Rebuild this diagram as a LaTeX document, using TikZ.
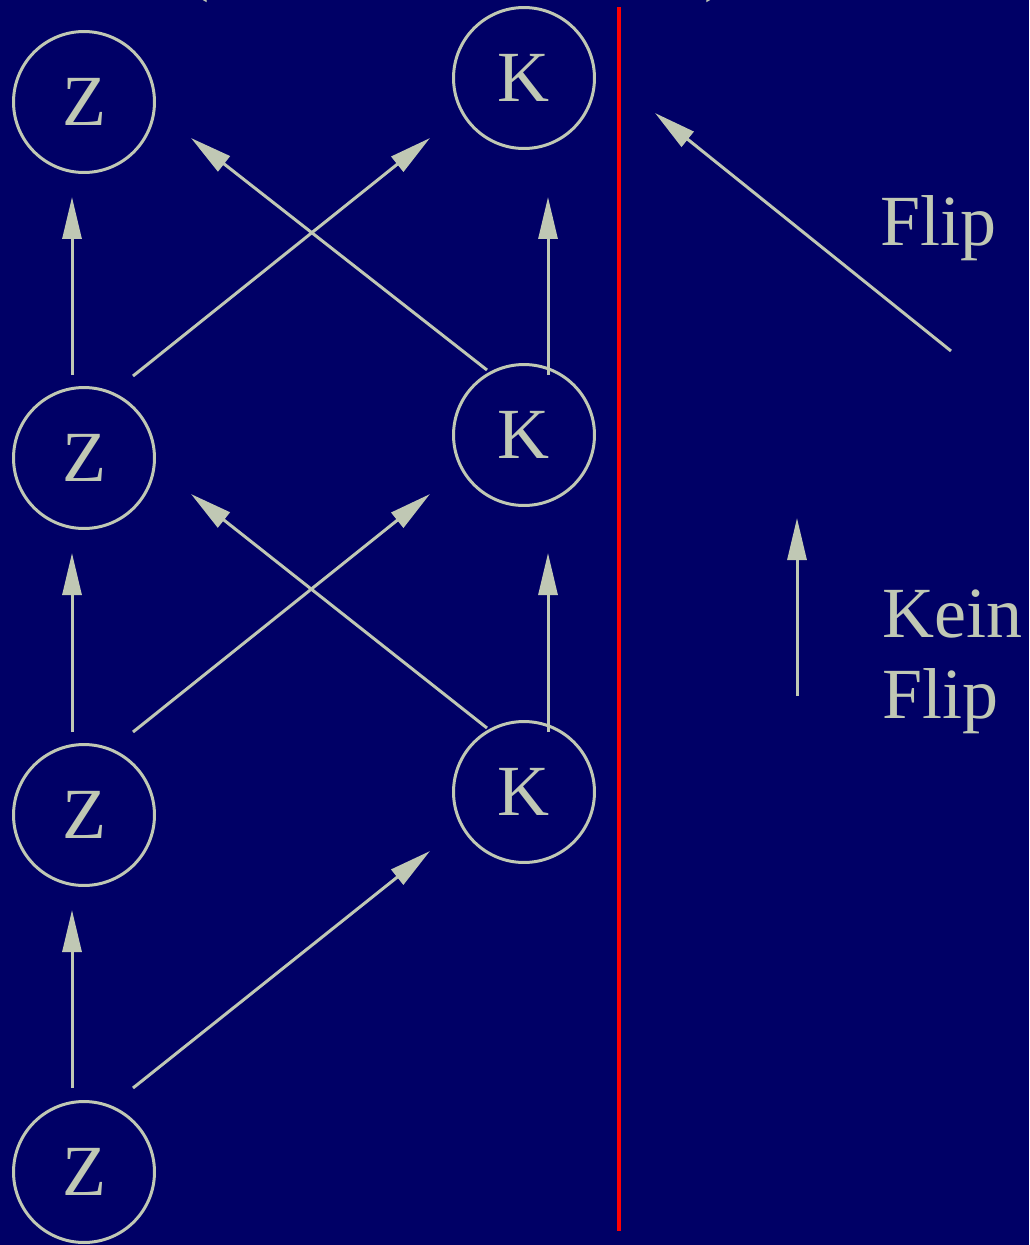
\documentclass[tikz,border=0pt]{standalone}
\usepackage{fontspec}
\setmainfont{Liberation Serif}
\usetikzlibrary{arrows.meta,calc}
\definecolor{bgnavy}{RGB}{0,0,102}
\definecolor{chalk}{RGB}{192,200,180}
\begin{document}
\begin{tikzpicture}[x=0.02cm,y=-0.02cm,
  every node/.style={text=chalk,font=\fontsize{41}{49}\selectfont},
  state/.style={circle,draw=chalk,line width=0.06cm,minimum size=2.82cm,inner sep=0pt},
  arr/.style={draw=chalk,line width=0.06cm,-{Triangle[length=0.84cm,width=0.38cm]}},
  lbl/.style={anchor=base west,inner sep=0pt}]
\fill[bgnavy] (0,0) rectangle (1029,1245);
\useasboundingbox (0,0) rectangle (1029,1245);
% partially visible parentheses at the top edge
\node[anchor=base,inner sep=0pt] (po) at (197,-13) {(};
\node[anchor=base,inner sep=0pt] (pc) at (716,-13) {)};
% nodes
\node[state] (z1) at (84,1172) {Z};
\node[state] (z2) at (84,815) {Z};
\node[state] (z3) at (84,458) {Z};
\node[state] (z4) at (84,102) {Z};
\node[state] (k1) at (524,792) {K};
\node[state] (k2) at (524,435) {K};
\node[state] (k3) at (524,78) {K};
% red separator
\coordinate (rt) at (619,7);
\coordinate (rb) at (619,1231);
\draw[red,line width=0.08cm] (rt) -- (rb);
% Z vertical
\draw[arr] ($(z1)+(-12,-84)$) -- ($(z2)+(-12,95)$);
\draw[arr] ($(z2)+(-12,-83)$) -- ($(z3)+(-12,95)$);
\draw[arr] ($(z3)+(-12,-83)$) -- ($(z4)+(-12,95)$);
% Z -> K diagonals
\draw[arr] ($(z1)+(49,-84)$) -- ($(k1)+(-94,59)$);
\draw[arr] ($(z2)+(49,-83)$) -- ($(k2)+(-94,59)$);
\draw[arr] ($(z3)+(49,-82)$) -- ($(k3)+(-94,60)$);
% K vertical
\draw[arr] ($(k1)+(24,-60)$) -- ($(k2)+(24,118)$);
\draw[arr] ($(k2)+(24,-60)$) -- ($(k3)+(24,119)$);
% K -> Z diagonals
\draw[arr] ($(k1)+(-37,-64)$) -- ($(z3)+(107,36)$);
\draw[arr] ($(k2)+(-37,-65)$) -- ($(z4)+(107,36)$);
% legend
\coordinate (fs) at (951,351);
\coordinate (fe) at (655,113);
\draw[arr] (fs) -- (fe);
\node[lbl] (flip) at (880,245) {Flip};
\coordinate (ns) at (797,696);
\coordinate (ne) at (797,518);
\draw[arr] (ns) -- (ne);
\node[lbl] (kein) at (882,637) {Kein};
\node[lbl] (flip2) at (882,718) {Flip};
\end{tikzpicture}
\end{document}
